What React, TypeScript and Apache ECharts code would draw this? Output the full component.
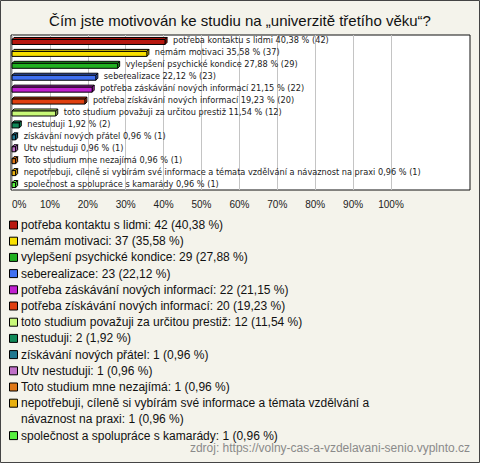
import React, { useEffect, useRef } from 'react';
import * as echarts from 'echarts';

const title = 'Čím jste motivován ke studiu na „univerzitě třetího věku“?';
const categories = [
  'potřeba kontaktu s lidmi',
  'nemám motivaci',
  'vylepšení psychické kondice',
  'seberealizace',
  'potřeba záskávání nových informací',
  'potřeba získávání nových informací',
  'toto studium považuji za určitou prestiž',
  'nestuduji',
  'získávání nových přátel',
  'Utv nestuduji',
  'Toto studium mne nezajímá',
  'nepotřebuji, cíleně si vybírám své informace a témata vzdělvání a návaznost na praxi',
  'společnost a spolupráce s kamarády',
];
const counts = [42, 37, 29, 23, 22, 20, 12, 2, 1, 1, 1, 1, 1];
const percents = [40.38, 35.58, 27.88, 22.12, 21.15, 19.23, 11.54, 1.92, 0.96, 0.96, 0.96, 0.96, 0.96];
const colors = [
  '#b81810', '#f8e000', '#20b020', '#4070f0', '#c020d0', '#e04010', '#c8f878',
  '#108858', '#207890', '#c070c8', '#e07818', '#e8b010', '#58f040',
];
const source = 'zdroj: https://volny-cas-a-vzdelavani-senio.vyplnto.cz';

const FONT = "'Liberation Sans', Arial, sans-serif";
const LABEL_FONT = "'DejaVu Sans', Verdana, sans-serif";
const fmt = (v: number) => v.toFixed(2).replace('.', ',');

export default function App() {
  const ref = useRef<HTMLDivElement>(null);
  useEffect(() => {
    document.body.style.margin = '0';
    const chart = echarts.init(ref.current!, null, { renderer: 'svg' });

    const legendEls: any[] = [];
    const legendTop = 225;
    const lineH = 16.2;
    let line = 0;
    categories.forEach((c, i) => {
      const y = legendTop + line * lineH;
      const text = `${c}: ${counts[i]} (${fmt(percents[i])} %)`;
      legendEls.push({
        type: 'rect',
        shape: { x: 9.5, y: y - 4, width: 8, height: 8 },
        style: { fill: colors[i], stroke: '#000', lineWidth: 1 },
      });
      legendEls.push({
        type: 'text',
        x: 21,
        y: y - 8,
        style: {
          text,
          width: 425,
          overflow: 'break',
          lineHeight: lineH,
          font: `12px ${FONT}`,
          fill: '#111',
          verticalAlign: 'top',
        },
      });
      const lines = c.length > 60 ? 2 : 1;
      line += lines;
    });

    const option: any = {
      animation: false,
      backgroundColor: '#f4f3eb',
      title: {
        text: title,
        left: 'center',
        top: 13,
        padding: 0,
        textStyle: { fontSize: 15, fontWeight: 'normal', color: '#111', fontFamily: FONT },
      },
      grid: [
        { left: 12, right: 89, top: 35, bottom: 273, show: false },
        { left: 11, right: 10, top: 35, bottom: 273, show: true, backgroundColor: '#ffffff', borderColor: '#111', borderWidth: 1, z: 0 },
      ],
      xAxis: [
        {
          type: 'value', gridIndex: 0, min: 0, max: 100, interval: 10, z: 1,
          axisLine: { show: false }, axisTick: { show: false },
          splitLine: { show: true, lineStyle: { color: '#c4c4c4', width: 1 } },
          axisLabel: { formatter: '{value}%', fontSize: 10, color: '#222', margin: 9, fontFamily: FONT, alignMinLabel: 'left' },
        },
        { type: 'value', gridIndex: 1, show: false, min: 0, max: 1 },
      ],
      yAxis: [
        { type: 'category', gridIndex: 0, data: categories, inverse: true, show: false },
        { type: 'value', gridIndex: 1, show: false, min: 0, max: 1 },
      ],
      series: [
        {
          type: 'custom',
          xAxisIndex: 0,
          yAxisIndex: 0,
          clip: false,
          z: 2,
          encode: { x: 0, y: 1 },
          data: percents.map((p, i) => [p, i]),
          renderItem: (params: any, api: any) => {
            const i = params.dataIndex;
            const v = api.value(0);
            const p0 = api.coord([0, i]);
            const p1 = api.coord([v, i]);
            const x0 = p0[0];
            const x1 = p1[0];
            const yc = p0[1];
            const h = 5;
            const d = 2;
            const top = yc - 1.5;
            const bot = top + h;
            const col = colors[i];
            return {
              type: 'group',
              children: [
                { type: 'polygon', shape: { points: [[x0, top], [x0 + d, top - d], [x1 + d, top - d], [x1, top]] }, style: { fill: col, stroke: '#000', lineWidth: 1 } },
                { type: 'polygon', shape: { points: [[x1, top], [x1 + d, top - d], [x1 + d, bot - d], [x1, bot]] }, style: { fill: col, stroke: '#000', lineWidth: 1 } },
                { type: 'rect', shape: { x: x0, y: top, width: x1 - x0, height: h }, style: { fill: col, stroke: '#000', lineWidth: 1 } },
                {
                  type: 'text',
                  style: {
                    text: `${categories[i]} ${fmt(percents[i])} % (${counts[i]})`,
                    x: x1 + 8, y: yc - 0.5, verticalAlign: 'middle',
                    font: `8.2px ${LABEL_FONT}`, fill: '#222',
                  },
                },
              ],
            };
          },
        },
      ],
      graphic: [
        ...legendEls,
        {
          type: 'text',
          right: 10,
          top: 442,
          style: { text: source, font: `12px ${FONT}`, fill: '#8a8a8a' },
        },
        {
          type: 'rect',
          shape: { x: 0.5, y: 0.5, width: 479, height: 462 },
          style: { fill: 'none', stroke: '#444', lineWidth: 1 },
          silent: true,
        },
      ],
    };
    chart.setOption(option);
    return () => chart.dispose();
  }, []);
  return <div ref={ref} style={{ width: 480, height: 463 }} />;
}
